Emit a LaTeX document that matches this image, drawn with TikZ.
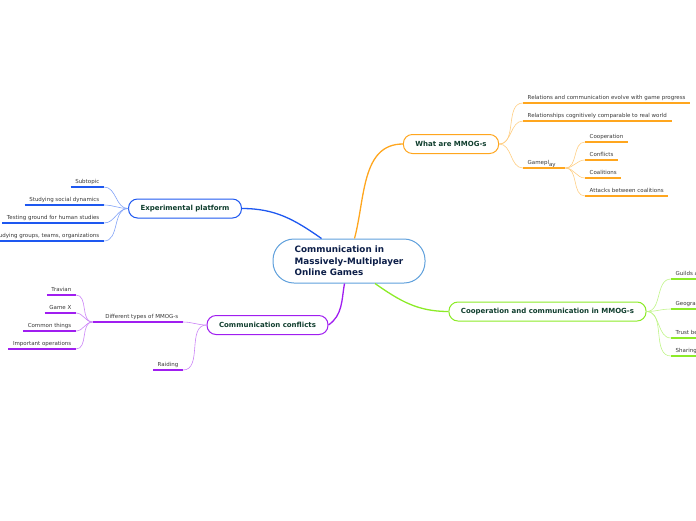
\documentclass[tikz,border=0pt]{standalone}
\usepackage{fontspec}
\setmainfont{DejaVu Sans}

\definecolor{centralblue}{RGB}{95,160,220}
\definecolor{navy}{RGB}{12,30,72}
\definecolor{topictext}{RGB}{16,62,46}
\definecolor{leaftext}{RGB}{55,55,55}
\definecolor{orng}{RGB}{255,166,30}
\definecolor{blu}{RGB}{30,88,240}
\definecolor{purp}{RGB}{160,30,240}
\definecolor{grn}{RGB}{140,235,40}

\begin{document}
\begin{tikzpicture}[
    x=1pt, y=-1pt,
    central/.style={draw=centralblue, line width=1pt, fill=white, rounded corners=21pt,
        minimum width=152pt, minimum height=44pt, align=left,
        font=\fontsize{8.8}{11.5}\selectfont\bfseries, text=navy},
    topic/.style={draw=#1, line width=1pt, fill=white, rounded corners=9pt,
        minimum height=19pt, inner xsep=12pt,
        font=\fontsize{7}{8}\selectfont\bfseries, text=topictext},
    leaf/.style={inner xsep=4.5pt, inner ysep=2pt, text height=4pt, text depth=1.2pt,
        font=\fontsize{5.5}{6}\selectfont, text=leaftext},
    uline/.style={draw=#1, line width=1.6pt},
    branch/.style={draw=#1, line width=1.3pt},
    twig/.style={draw=#1!55, line width=0.6pt}
]
    \useasboundingbox (0,0) rectangle (696,520);
    \clip (0,0) rectangle (696,520);

    % Central topic
    \node[central] (C) at (349,261) {Communication in\\Massively-Multiplayer\\Online Games};

    % What are MMOG-s
    \node[topic=orng] (what) at (451,144) {What are MMOG-s};
    \node[leaf, anchor=south west] (W1) at (523,103) {Relations and communication evolve with game progress};
    \node[leaf, anchor=south west] (W2) at (523,121) {Relationships cognitively comparable to real world};
    \node[leaf, anchor=south west, text width=33pt] (W3) at (523,168) {Gamepl\raisebox{-2pt}{ay}};
    \foreach \t [count=\i] in {Cooperation, Conflicts, Coalitions, Attacks between coalitions}
        \node[leaf, anchor=south west] (G\i) at (585,{124+18*\i}) {\t};

    % Experimental platform
    \node[topic=blu] (exp) at (185,208.5) {Experimental platform};
    \foreach \t [count=\i] in {Subtopic, Studying social dynamics, Testing ground for human studies,
        {Studying groups, teams, organizations}}
        \node[leaf, anchor=south east] (E\i) at (104,{169+18*\i}) {\t};

    % Communication conflicts
    \node[topic=purp] (conf) at (267.5,325) {Communication conflicts};
    \node[leaf, anchor=south east, text width=81pt, align=right] (diff) at (183,322) {Different types of MMOG-s};
    \node[leaf, anchor=south east] (raid) at (183,370) {Raiding};
    \foreach \t [count=\i] in {Travian, Game X, Common things, Important operations}
        \node[leaf, anchor=south east] (T\i) at (76,{277+18*\i}) {\t};

    % Cooperation and communication
    \node[topic=grn] (coop) at (547.5,311.5) {Cooperation and communication in MMOG-s};
    \node[leaf, anchor=south west] (K1) at (671,279) {Guilds a};
    \node[leaf, anchor=south west] (K2) at (671,309) {Geograp};
    \node[leaf, anchor=south west] (K3) at (671,338) {Trust be};
    \node[leaf, anchor=south west] (K4) at (671,356) {Sharing};

    % Main branches
    \draw[branch=blu] (exp.east) to[out=0,in=145] ([xshift=-27.5pt]C.north);
    \draw[branch=orng] ([xshift=5.5pt]C.north) to[out=75,in=180] (what.west);
    \draw[branch=purp] ([xshift=-4.5pt]C.south) to[out=-100,in=35] (conf.east);
    \draw[branch=grn] ([xshift=26pt]C.south) to[out=-35,in=180] (coop.west);

    % Underlines
    \foreach \n in {W1,W2,W3,G1,G2,G3,G4}
        \draw[uline=orng] (\n.south west) -- (\n.south east);
    \foreach \n in {E1,E2,E3,E4}
        \draw[uline=blu] (\n.south west) -- (\n.south east);
    \foreach \n in {diff,raid,T1,T2,T3,T4}
        \draw[uline=purp] (\n.south west) -- (\n.south east);
    \foreach \n in {K1,K2,K3,K4}
        \draw[uline=grn] (\n.south west) -- (\n.south east);

    % Sub branches
    \foreach \n in {W1,W2,W3}
        \draw[twig=orng] (what.east) to[out=0,in=180] (\n.south west);
    \foreach \i in {1,...,4}
        \draw[twig=orng] (W3.south east) to[out=0,in=180] (G\i.south west);
    \foreach \i in {1,...,4}
        \draw[twig=blu] (exp.west) to[out=180,in=0] (E\i.south east);
    \foreach \n in {diff,raid}
        \draw[twig=purp] (conf.west) to[out=180,in=0] (\n.south east);
    \foreach \i in {1,...,4}
        \draw[twig=purp] (diff.south west) to[out=180,in=0] (T\i.south east);
    \foreach \i in {1,...,4}
        \draw[twig=grn] (coop.east) to[out=0,in=180] (K\i.south west);

\end{tikzpicture}
\end{document}
